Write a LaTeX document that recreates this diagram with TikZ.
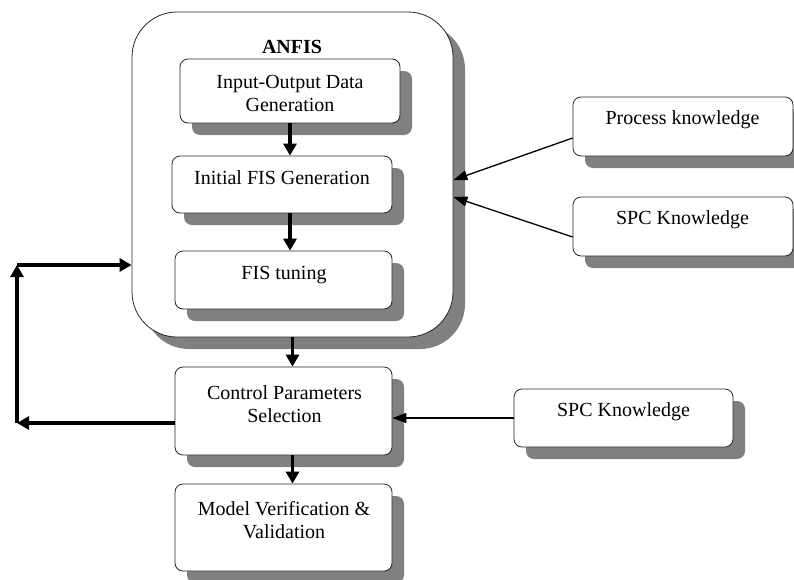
\documentclass[tikz,border=0pt]{standalone}
\usepackage{fontspec}
\setmainfont{Liberation Serif}
\usetikzlibrary{arrows.meta,shadows}
\tikzstyle{box}=[rectangle, rounded corners=8pt, draw=black!85, line width=0.8pt, fill=white, inner sep=0pt, drop shadow={shadow xshift=12pt, shadow yshift=-12pt, fill=black!50, opacity=1}]
\tikzstyle{annot}=[align=center, font=\fontsize{20}{23}\selectfont]
\tikzstyle{flow}=[line width=3.5pt, -{Triangle[width=13pt,length=12pt]}]
\tikzstyle{feed}=[line width=1.3pt, -{Triangle[width=10pt,length=14pt]}]
\begin{document}
\begin{tikzpicture}[x=1pt,y=-1pt]
	\useasboundingbox (0,0) rectangle (794,579);

	% ANFIS block
	\node[box, rounded corners=45pt, minimum width=321pt, minimum height=325pt](anfis) at (292.5,174.5){};
	\node[annot, font=\fontsize{20}{23}\selectfont\bfseries](anfislabel) at (292,47){ANFIS};
	\node[box, minimum width=220pt, minimum height=64pt](iodata) at (290,91){};
	\node[annot](iodatatext) at (290,93){Input-Output Data\\Generation};
	\node[box, minimum width=220pt, minimum height=57pt](initfis) at (282,184.5){};
	\node[annot](initfistext) at (282,178){Initial FIS Generation};
	\node[box, minimum width=217pt, minimum height=58pt](tuning) at (283.5,280){};
	\node[annot](tuningtext) at (284,275){FIS tuning};

	% lower stages
	\node[box, minimum width=217pt, minimum height=88pt](ctrl) at (283.5,411){};
	\node[annot](ctrltext) at (284.5,404){Control Parameters\\Selection};
	\node[box, minimum width=217pt, minimum height=87pt](model) at (283.5,527.5){};
	\node[annot](modeltext) at (284,520){Model Verification \&\\Validation};

	% knowledge sources
	\node[box, minimum width=220pt, minimum height=59pt](proc) at (683,126.5){};
	\node[annot](proctext) at (682.5,120){Process knowledge};
	\node[box, minimum width=220pt, minimum height=59pt](spcA) at (683,226.5){};
	\node[annot](spcAtext) at (682.5,220){SPC Knowledge};
	\node[box, minimum width=219pt, minimum height=58pt](spcB) at (623.5,418){};
	\node[annot](spcBtext) at (623.5,412){SPC Knowledge};

	% main flow
	\draw[flow] (iodata.south) -- (iodata.south |- initfis.north);
	\draw[flow] (iodata.south |- initfis.south) -- (iodata.south |- tuning.north);
	\draw[flow] (anfis.south) -- (anfis.south |- ctrl.north);
	\draw[flow] (anfis.south |- ctrl.south) -- (anfis.south |- model.north);

	% feedback loop
	\coordinate (fbbottom) at (17,423);
	\coordinate (fbtop) at (17,265);
	\draw[flow] (fbbottom -| ctrl.west) -- (fbbottom);
	\draw[flow] (fbbottom) -- (fbtop);
	\draw[flow] (fbtop) -- (fbtop -| anfis.west);

	% knowledge inputs
	\draw[feed] ([yshift=-11.5pt]proc.west) -- ([yshift=-5.5pt]anfis.east);
	\draw[feed] ([yshift=-10.5pt]spcA.west) -- ([yshift=-22.5pt]anfis.east);
	\draw[feed] (spcB.west) -- (spcB.west -| ctrl.east);

\end{tikzpicture}
\end{document}
